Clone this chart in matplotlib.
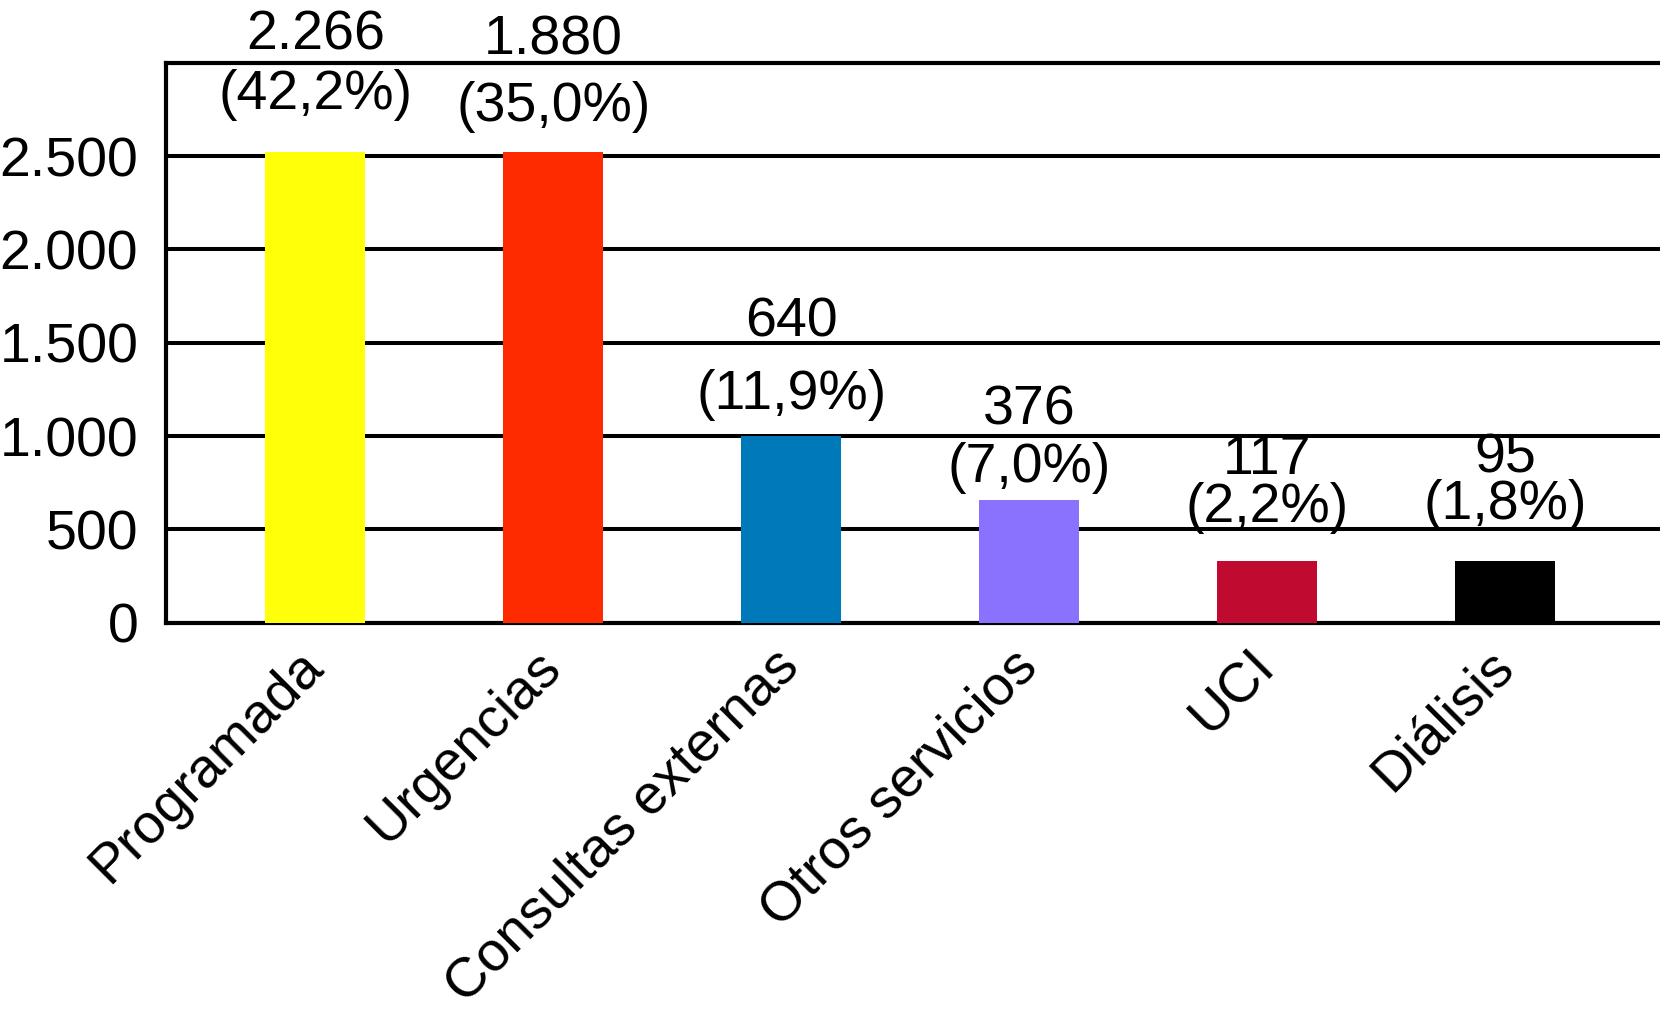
import matplotlib
matplotlib.use("Agg")
import matplotlib.pyplot as plt

categories = ["Programada", "Urgencias", "Consultas externas", "Otros servicios", "UCI", "Diálisis"]
bar_heights = [2524, 2524, 1000, 658, 330, 330]
count_labels = ["2.266", "1.880", "640", "376", "117", "95"]
pct_labels = ["(42,2%)", "(35,0%)", "(11,9%)", "(7,0%)", "(2,2%)", "(1,8%)"]
bar_colors = ["#FFFF0A", "#FF2B00", "#0079BA", "#8A72FF", "#C10A2F", "#000000"]
yticks = [0, 500, 1000, 1500, 2000, 2500]
ytick_labels = ["0", "500", "1.000", "1.500", "2.000", "2.500"]

# label offsets (pixels above bar top) for the two annotation lines
count_offsets = [116, 111, 114, 89, 101, 103]
pct_offsets = [57, 45, 41, 32, 53, 56]

plt.rcParams["font.family"] = ["Liberation Sans", "DejaVu Sans"]

fig = plt.figure(figsize=(16.6, 10.14), dpi=100)
ax = fig.add_axes([0.100, 0.386, 0.900, 0.552])

x = list(range(len(categories)))
ax.bar(x, bar_heights, width=0.42, color=bar_colors, zorder=3)

ax.set_xlim(-0.628, 5.65)
ax.set_ylim(0, 3000)
ax.set_yticks(yticks)
ax.set_yticklabels(ytick_labels, fontsize=40)
ax.tick_params(axis="y", length=0, pad=20)
ax.set_xticks(x)
ax.set_xticklabels(categories, fontsize=40, rotation=45, ha="right",
                   rotation_mode="anchor", va="center")
ax.tick_params(axis="x", length=0, pad=26)

ax.grid(axis="y", color="black", linewidth=2.9, zorder=1)
ax.set_axisbelow(True)
for s in ["left", "bottom", "top"]:
    ax.spines[s].set_linewidth(3.0)
    ax.spines[s].set_color("black")
ax.spines["right"].set_visible(False)

for i, (h, c, p) in enumerate(zip(bar_heights, count_labels, pct_labels)):
    ax.annotate(c, (i, h), xytext=(0, count_offsets[i]), textcoords="offset pixels",
                ha="center", va="center", fontsize=40, annotation_clip=False)
    ax.annotate(p, (i, h), xytext=(0, pct_offsets[i]), textcoords="offset pixels",
                ha="center", va="center", fontsize=40, annotation_clip=False)

fig.savefig("out.png", dpi=100)
